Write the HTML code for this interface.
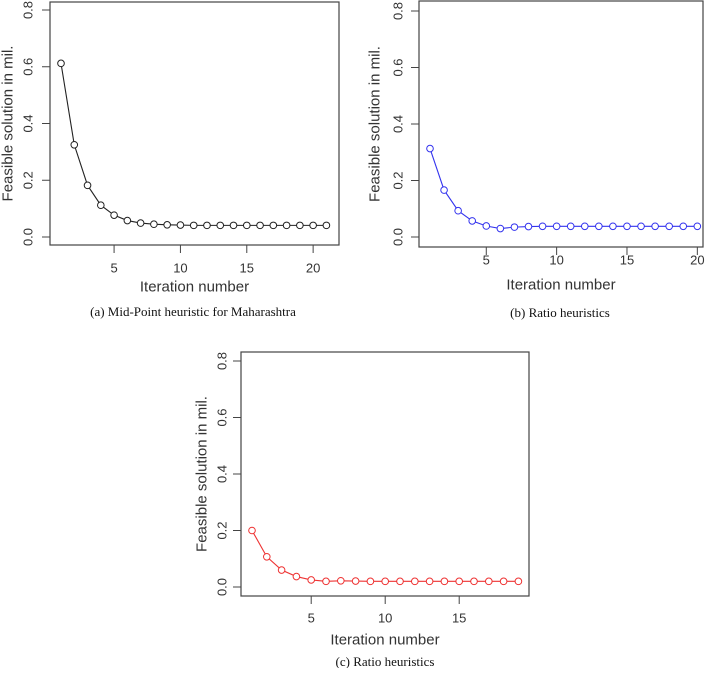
<!DOCTYPE html>
<html><head><meta charset="utf-8"><style>
body{margin:0;background:#fff;width:709px;height:668px;overflow:hidden}
svg text{font-family:"Liberation Sans",sans-serif}
</style></head><body>
<svg id="s" width="709" height="668" xmlns="http://www.w3.org/2000/svg"></svg>
<script>
const seriesA=[0.612,0.325,0.182,0.112,0.077,0.058,0.049,0.045,0.043,0.042,0.041,0.041,0.041,0.041,0.041,0.041,0.041,0.041,0.041,0.041,0.041];
const seriesB=[0.313,0.166,0.093,0.057,0.039,0.030,0.035,0.037,0.038,0.038,0.038,0.038,0.038,0.038,0.038,0.038,0.038,0.038,0.038,0.038];
const seriesC=[0.200,0.107,0.060,0.037,0.025,0.020,0.022,0.021,0.020,0.020,0.020,0.020,0.020,0.020,0.020,0.020,0.020,0.020,0.020];
const yTicks=[0.0,0.2,0.4,0.6,0.8];
const xTicksA=[5,10,15,20];
const xTicksC=[5,10,15];
const captions=["(a)  Mid-Point heuristic for Maharashtra","(b)  Ratio heuristics","(c)  Ratio heuristics"];
const NS="http://www.w3.org/2000/svg";
const svg=document.getElementById('s');
function mk(t,a,p){const e=document.createElementNS(NS,t);for(const k in a)e.setAttribute(k,a[k]);(p||svg).appendChild(e);return e;}
const panels=[
 {d:seriesA,xt:xTicksA,col:'#222',L:50,R:339,T:2,B:245,x1:61,xu:13.27,y0:237,y8:10,cap:captions[0],capx:193,capy:316,tly:268,xly:287,ylx:8,ytx:28,n:'panel-a'},
 {d:seriesB,xt:xTicksA,col:'#3333ee',L:419,R:703,T:1,B:247,x1:430,xu:14.07,y0:237,y8:11,cap:captions[1],capx:560,capy:317,tly:260,xly:285,ylx:375,ytx:398,n:'panel-b'},
 {d:seriesC,xt:xTicksC,col:'#ee3333',L:241,R:529,T:352,B:596,x1:252,xu:14.8,y0:587,y8:361,cap:captions[2],capx:385,capy:666,tly:618,xly:640,ylx:202,ytx:222,n:'panel-c'}
];
panels.forEach(p=>{
 const g=mk('g',{});
 
 
 const X=i=>p.x1+(i-1)*p.xu, Y=v=>p.y0+(p.y8-p.y0)*v/0.8;
 const box=mk('rect',{x:p.L,y:p.T,width:p.R-p.L,height:p.B-p.T,fill:'none',stroke:'#444','stroke-width':1.2},g);
 
 
 yTicks.forEach(v=>{
  mk('line',{x1:p.L-8,x2:p.L,y1:Y(v),y2:Y(v),stroke:'#444'},g);
  const t=mk('text',{x:p.ytx,y:Y(v),'font-size':13,fill:'#333','text-anchor':'middle','dominant-baseline':'central',transform:`rotate(-90 ${p.ytx} ${Y(v)})`},g);
  t.textContent=v.toFixed(1);
  
  
 });
 p.xt.forEach(v=>{
  mk('line',{x1:X(v),x2:X(v),y1:p.B,y2:p.B+8,stroke:'#444'},g);
  const t=mk('text',{x:X(v),y:p.tly,'font-size':13,fill:'#333','text-anchor':'middle','dominant-baseline':'central'},g);
  t.textContent=v;
  
  
 });
 const xl=mk('text',{x:(p.L+p.R)/2,y:p.xly,'font-size':15,fill:'#333','text-anchor':'middle','dominant-baseline':'central'},g);
 xl.textContent='Iteration number';
 
 
 const yc=(p.y0+p.y8)/2;
 const yl=mk('text',{x:p.ylx,y:yc,'font-size':15,fill:'#333','text-anchor':'middle','dominant-baseline':'central',transform:`rotate(-90 ${p.ylx} ${yc})`},g);
 yl.textContent='Feasible solution in mil.';
 
 
 const line=mk('polyline',{points:p.d.map((v,i)=>X(i+1)+','+Y(v)).join(' '),fill:'none',stroke:p.col,'stroke-width':1.1},g);
 
 
 p.d.forEach((v,i)=>{
  const c=mk('circle',{cx:X(i+1),cy:Y(v),r:3.3,fill:'#fff',stroke:p.col,'stroke-width':1},g);
  
  
 });
 const cp=mk('text',{x:p.capx,y:p.capy,'font-size':13,fill:'#111','text-anchor':'middle'},g);
 cp.style.fontFamily='"Liberation Serif",serif';
 cp.textContent=p.cap;
 
 
});
</script>
</body></html>
